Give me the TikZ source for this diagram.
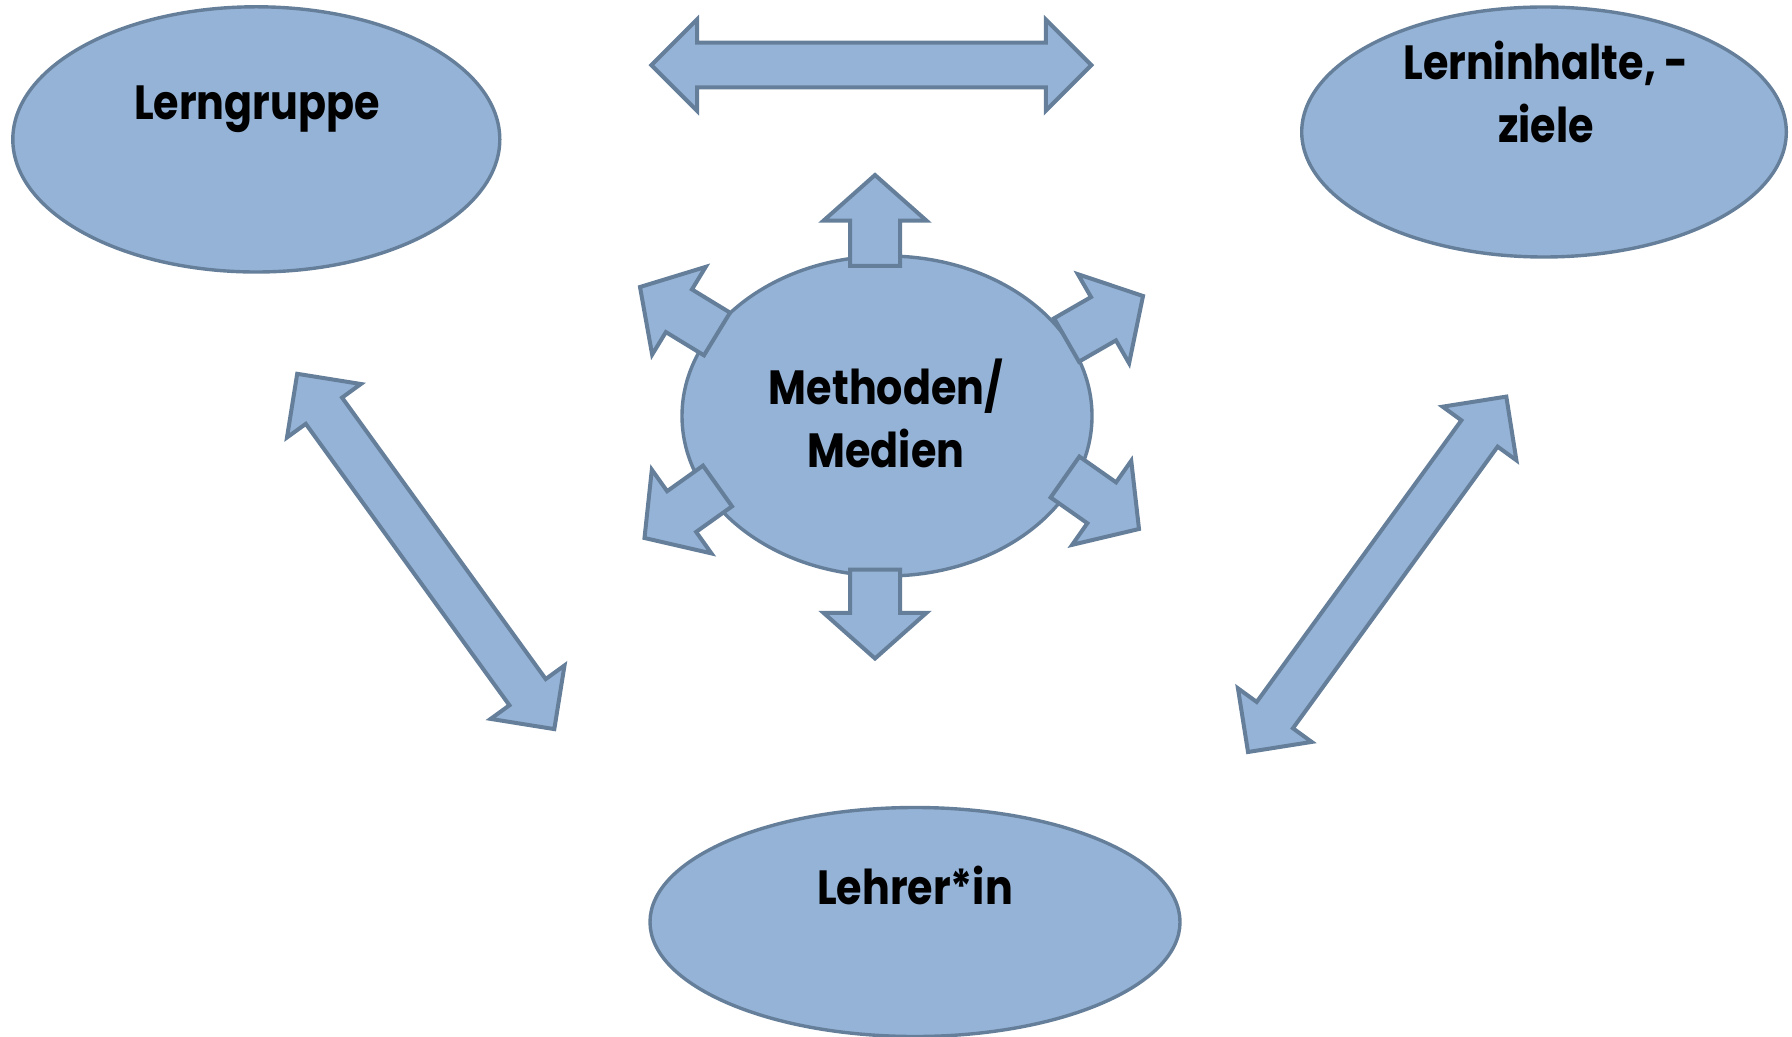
\documentclass[tikz,border=0pt]{standalone}
\usepackage{fontspec}
\setmainfont{Poppins}[FakeStretch=0.86]
\usetikzlibrary{calc,shapes.geometric}

\definecolor{blobfill}{HTML}{95B3D7}
\definecolor{blobline}{HTML}{657F9A}

\tikzset{
  blob/.style={ellipse, draw=blobline, fill=blobfill, line width=1.7pt, inner sep=0pt},
  blk/.style={draw=blobline, fill=blobfill, line width=2pt, line join=miter},
  lbl/.style={font=\bfseries\fontsize{24}{31.5}\selectfont, text=black, inner sep=0pt, align=center},
}

% one-headed block arrow from tail #1 to tip #2
% #3 shaft half width, #4 head half width, #5 head length
\newcommand\onewayarrow[5]{%
  \coordinate (hb) at ($(#2)!#5!(#1)$);
  \draw[blk] ($(#1)!#3!90:(#2)$) -- ($(hb)!#3!90:(#2)$) -- ($(hb)!#4!90:(#2)$)
    -- (#2) -- ($(hb)!#4!-90:(#2)$) -- ($(hb)!#3!-90:(#2)$)
    -- ($(#1)!#3!-90:(#2)$) -- cycle;}

% two-headed block arrow between tips #1 and #2
\newcommand\twowayarrow[5]{%
  \coordinate (hba) at ($(#1)!#5!(#2)$);
  \coordinate (hbb) at ($(#2)!#5!(#1)$);
  \draw[blk] (#1) -- ($(hba)!#4!90:(#2)$) -- ($(hba)!#3!90:(#2)$)
    -- ($(hbb)!#3!-90:(#1)$) -- ($(hbb)!#4!-90:(#1)$) -- (#2)
    -- ($(hbb)!#4!90:(#1)$) -- ($(hbb)!#3!90:(#1)$)
    -- ($(hba)!#3!-90:(#2)$) -- ($(hba)!#4!-90:(#2)$) -- cycle;}

\begin{document}
\begin{tikzpicture}[x=0.5pt, y=-0.5pt]
\useasboundingbox (0,0) rectangle (1792,1037);

% outer ellipses
\node[blob, minimum width=243.5pt, minimum height=132.6pt] (grp) at (256.3,139.4) {};
\node[blob, minimum width=242.3pt, minimum height=125pt] (inh) at (1544,132) {};
\node[blob, minimum width=265pt, minimum height=114.5pt] (lhr) at (915,922) {};
\node[blob, minimum width=205pt, minimum height=160pt] (met) at (887,416) {};

% labels (anchor base sits on the last line)
\node[lbl, anchor=base] (tgrp) at (257,120) {Lerngruppe};
\node[lbl, anchor=base] (tinh) at (1546,142.5) {Lerninhalte, -\\ziele};
\node[lbl, anchor=base] (tmet) at (886,467) {Methoden/\\Medien};
\node[lbl, anchor=base] (tlhr) at (915,904) {Lehrer*in};

% ends of the small arrows round the centre
\coordinate (upT) at (875,266);    \coordinate (upH) at (875,175);
\coordinate (dnT) at (875,569.5);  \coordinate (dnH) at (875,658.5);
\coordinate (ulT) at (717,334);    \coordinate (ulH) at (640,287);
\coordinate (urT) at (1066.5,340); \coordinate (urH) at (1143,296);
\coordinate (llT) at (717.5,486);  \coordinate (llH) at (644.5,538);
\coordinate (lrT) at (1065,477);   \coordinate (lrH) at (1139,529);

\foreach \a in {up,dn,ul,ur,ll,lr}
  {\onewayarrow{\a T}{\a H}{12.5pt}{25.7pt}{22.8pt}}

% ends of the long double arrows
\coordinate (topA) at (651.4,65.1);  \coordinate (topB) at (1091.4,65.1);
\coordinate (lftA) at (297.2,373.8); \coordinate (lftB) at (554.3,729.1);
\coordinate (rgtA) at (1506.3,396.6);\coordinate (rgtB) at (1248,752);

\twowayarrow{topA}{topB}{11.2pt}{22.8pt}{22.8pt}
\twowayarrow{lftA}{lftB}{11.2pt}{22.8pt}{22.8pt}
\twowayarrow{rgtA}{rgtB}{11.2pt}{22.8pt}{22.8pt}
\end{tikzpicture}
\end{document}
